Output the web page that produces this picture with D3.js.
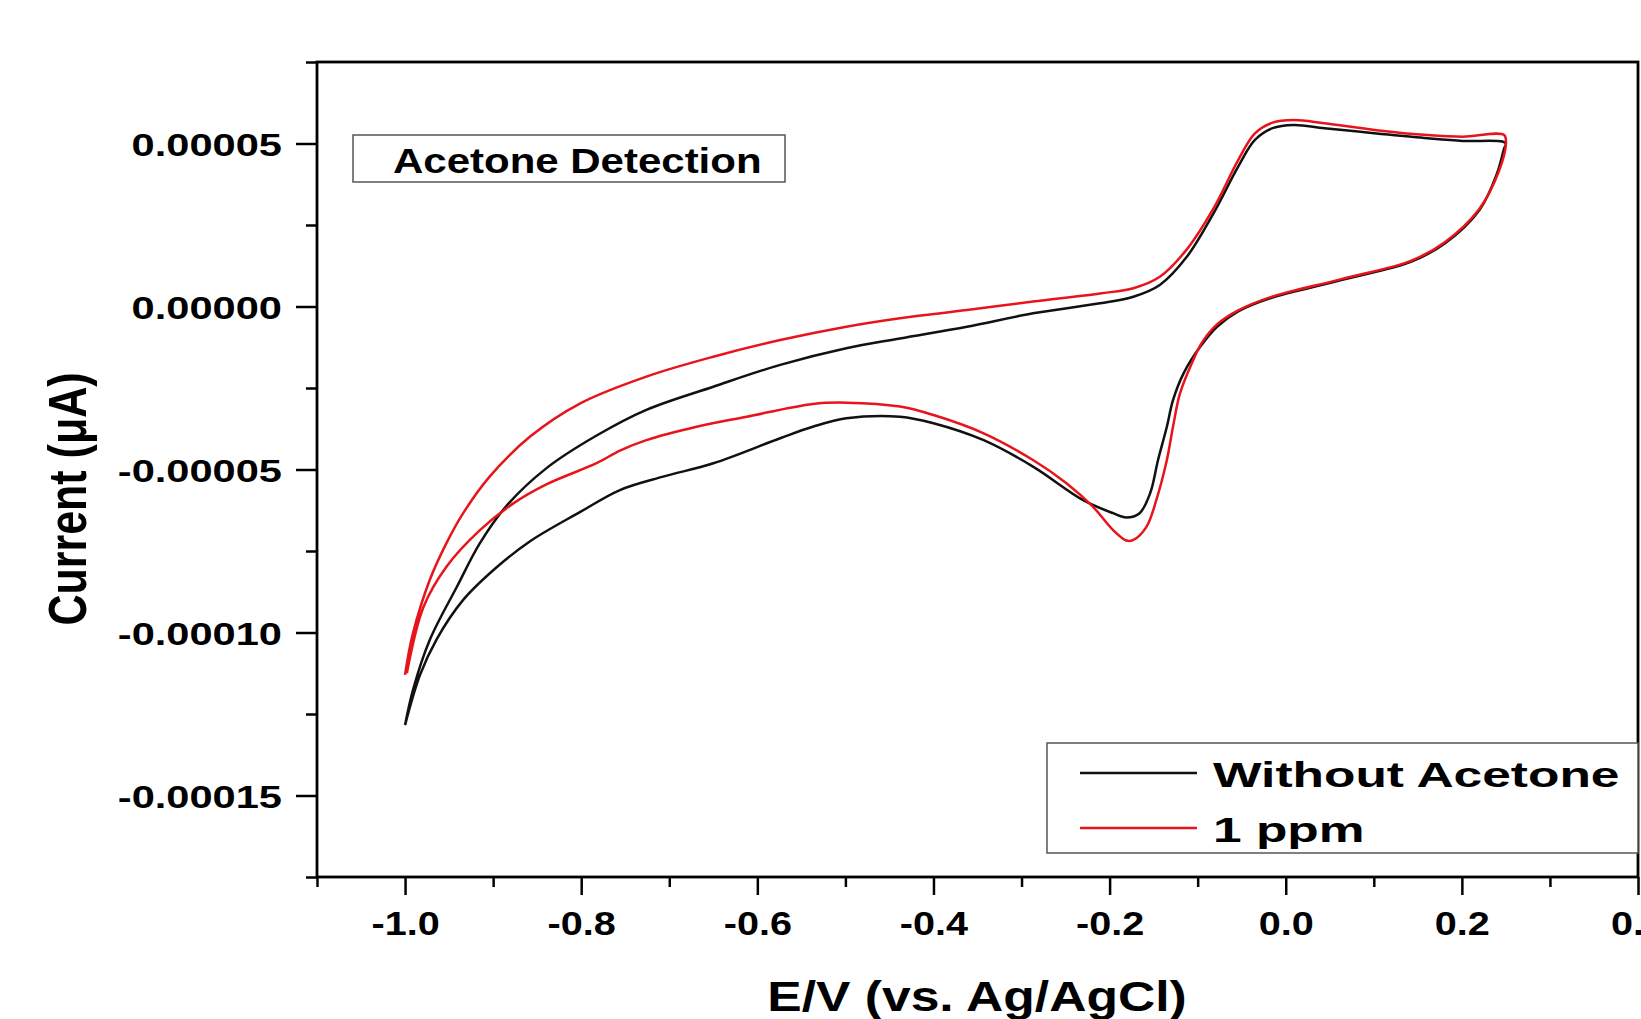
<!DOCTYPE html>
<html>
<head>
<meta charset="utf-8">
<script src="https://cdn.jsdelivr.net/npm/d3@7"></script>
<style>
  body { margin: 0; background: #fff; }
  svg text { font-family: "Liberation Sans", Arial, sans-serif; font-weight: bold; fill: #000; }
</style>
</head>
<body>
<div id="chart"></div>
<script>
// series: potential (V) and current (A), one loop per scan
var seriesNames = ["Without Acetone", "1 ppm"];

var potentialBlank = [-1.000, -0.991, -0.972, -0.941, -0.915, -0.885, -0.839, -0.782, -0.726, -0.650,
  -0.574, -0.499, -0.438, -0.362, -0.287, -0.211, -0.173, -0.143, -0.113, -0.082, -0.054, -0.035,
  -0.015, 0.009, 0.044, 0.103, 0.161, 0.201, 0.246, 0.250,
  0.248, 0.240, 0.220, 0.181, 0.142, 0.063, -0.018, -0.054, -0.078, -0.097, -0.116, -0.128, -0.135,
  -0.145, -0.154, -0.166, -0.181, -0.196, -0.230, -0.287, -0.343, -0.400, -0.438, -0.499, -0.537,
  -0.574, -0.650, -0.707, -0.756, -0.801, -0.858, -0.896, -0.934, -0.964, -0.983, -1.000];
var currentBlank = [-12.84e-5, -11.76e-5, -10.23e-5, -8.59e-5, -7.26e-5, -6.12e-5, -4.95e-5, -3.95e-5, -3.17e-5, -2.46e-5,
  -1.79e-5, -1.28e-5, -0.98e-5, -0.62e-5, -0.21e-5, 0.10e-5, 0.30e-5, 0.66e-5, 1.50e-5, 2.86e-5, 4.29e-5, 5.11e-5,
  5.47e-5, 5.57e-5, 5.47e-5, 5.31e-5, 5.16e-5, 5.08e-5, 5.06e-5, 5.00e-5,
  4.85e-5, 4.09e-5, 2.96e-5, 1.94e-5, 1.37e-5, 0.81e-5, 0.25e-5, -0.15e-5, -0.62e-5, -1.23e-5, -2.05e-5, -2.87e-5, -3.69e-5,
  -4.71e-5, -5.73e-5, -6.34e-5, -6.47e-5, -6.34e-5, -5.94e-5, -4.91e-5, -4.10e-5, -3.58e-5, -3.38e-5, -3.43e-5, -3.69e-5,
  -4.04e-5, -4.81e-5, -5.22e-5, -5.63e-5, -6.30e-5, -7.20e-5, -8.00e-5, -9.00e-5, -10.20e-5, -11.30e-5, -12.84e-5];

var potentialAcetone = [-1.000, -0.998, -0.991, -0.972, -0.953, -0.934, -0.904, -0.858, -0.801, -0.726,
  -0.650, -0.574, -0.499, -0.438, -0.362, -0.287, -0.211, -0.173, -0.143, -0.113, -0.082, -0.054,
  -0.035, -0.015, 0.009, 0.044, 0.103, 0.161, 0.201, 0.248,
  0.250, 0.242, 0.220, 0.181, 0.142, 0.063, -0.018, -0.054, -0.078, -0.095, -0.105, -0.120, -0.128,
  -0.135, -0.147, -0.158, -0.173, -0.181, -0.196, -0.219, -0.249, -0.287, -0.343, -0.400, -0.438,
  -0.499, -0.537, -0.612, -0.669, -0.726, -0.756, -0.782, -0.839, -0.877, -0.915, -0.953, -0.979, -0.998];
var currentAcetone = [-11.30e-5, -10.95e-5, -10.02e-5, -8.39e-5, -7.26e-5, -6.34e-5, -5.22e-5, -3.99e-5, -2.97e-5, -2.15e-5,
  -1.54e-5, -1.03e-5, -0.62e-5, -0.36e-5, -0.11e-5, 0.15e-5, 0.40e-5, 0.56e-5, 0.91e-5, 1.73e-5, 3.01e-5, 4.49e-5,
  5.31e-5, 5.64e-5, 5.72e-5, 5.62e-5, 5.41e-5, 5.26e-5, 5.21e-5, 5.26e-5,
  5.00e-5, 4.15e-5, 3.00e-5, 1.98e-5, 1.40e-5, 0.84e-5, 0.28e-5, -0.12e-5, -0.55e-5, -1.10e-5, -1.64e-5, -2.66e-5, -3.69e-5,
  -4.71e-5, -5.94e-5, -6.75e-5, -7.16e-5, -7.18e-5, -6.86e-5, -6.14e-5, -5.42e-5, -4.71e-5, -3.89e-5, -3.33e-5, -3.07e-5,
  -2.95e-5, -2.99e-5, -3.38e-5, -3.69e-5, -4.10e-5, -4.42e-5, -4.80e-5, -5.45e-5, -6.04e-5, -6.86e-5, -7.98e-5, -9.21e-5, -11.25e-5];

var xMajorTicks = [-1.0, -0.8, -0.6, -0.4, -0.2, 0.0, 0.2, 0.4];
var xMinorTicks = [-1.1, -0.9, -0.7, -0.5, -0.3, -0.1, 0.1, 0.3];
var yMajorTicks = [-0.00015, -0.0001, -0.00005, 0, 0.00005];
var yMinorTicks = [-0.000175, -0.000125, -0.000075, -0.000025, 0.000025, 0.000075];

var lineColors = ["#111111", "#e8141c"];

cvChart = function(_parentElement){
    this.parentElement = _parentElement;
    this.initVis();
}

cvChart.prototype.initVis = function(){

    var vis = this;

    vis.margin = {top: 62, right: 3, bottom: 142, left: 317},
      vis.width = 1641 - vis.margin.left - vis.margin.right,
      vis.height = 1019 - vis.margin.top - vis.margin.bottom;

    vis.svg = d3.select("#" + vis.parentElement).append("svg")
        .attr("width", 1641)
        .attr("height", 1019)
        .append("g")
        .attr("transform", "translate(" + vis.margin.left + "," + vis.margin.top + ")");

    vis.x = d3.scaleLinear().domain([-1.1, 0.4]).range([0, vis.width]);
    vis.y = d3.scaleLinear().domain([-0.000175, 0.000075]).range([vis.height, 0]);

    // minor ticks first, no labels
    vis.svg.append("g")
        .attr("transform", "translate(0," + vis.height + ")")
        .call(d3.axisBottom(vis.x).tickValues(xMinorTicks).tickSize(10).tickFormat(""))
        .call(function(g){ g.select(".domain").remove(); });
    vis.svg.append("g")
        .call(d3.axisLeft(vis.y).tickValues(yMinorTicks).tickSize(11).tickFormat(""))
        .call(function(g){ g.select(".domain").remove(); });

    var xAxis = vis.svg.append("g")
        .attr("transform", "translate(0," + vis.height + ")")
        .call(d3.axisBottom(vis.x).tickValues(xMajorTicks).tickSize(18)
            .tickFormat(function(d){ return d.toFixed(1); }));
    xAxis.select(".domain").remove();
    xAxis.attr("font-size", 33).attr("font-family", null);
    xAxis.selectAll("text")
        .attr("y", 58).attr("dy", 0)
        .attr("transform", "scale(1.2,1)");

    var yAxis = vis.svg.append("g")
        .call(d3.axisLeft(vis.y).tickValues(yMajorTicks).tickSize(21)
            .tickFormat(function(d){ return d.toFixed(5); }));
    yAxis.select(".domain").remove();
    yAxis.attr("font-size", 32).attr("font-family", null);
    yAxis.selectAll("text")
        .attr("x", -35 / 1.3).attr("dy", "0.36em")
        .attr("transform", "scale(1.3,1)");

    vis.svg.selectAll(".tick line").attr("stroke", "#000").attr("stroke-width", 2.5);

    // frame
    vis.svg.append("rect")
        .attr("width", vis.width)
        .attr("height", vis.height)
        .attr("fill", "none")
        .attr("stroke", "#000")
        .attr("stroke-width", 2.8);

    var line = d3.line()
        .x(function(d){ return vis.x(d[0]); })
        .y(function(d){ return vis.y(d[1]); })
        .curve(d3.curveCatmullRom.alpha(0.5));

    var series = [d3.zip(potentialBlank, currentBlank), d3.zip(potentialAcetone, currentAcetone)];

    vis.svg.selectAll(".cv")
        .data(series)
        .enter()
        .append("path")
            .attr("class", "cv")
            .attr("d", line)
            .attr("fill", "none")
            .attr("stroke", function(d, i){ return lineColors[i]; })
            .attr("stroke-width", 2.5)
            .attr("stroke-linejoin", "round");

    // annotation box
    vis.svg.append("rect")
        .attr("x", 36).attr("y", 73)
        .attr("width", 432).attr("height", 47)
        .attr("fill", "#fff")
        .attr("stroke", "#555").attr("stroke-width", 1.5);
    vis.svg.append("text")
        .attr("transform", "translate(76,111) scale(1.2,1)")
        .attr("font-size", 35)
        .text("Acetone Detection");

    // legend
    var legend = vis.svg.append("g").attr("transform", "translate(730,681)");
    legend.append("rect")
        .attr("width", vis.width - 730)
        .attr("height", 110)
        .attr("fill", "#fff")
        .attr("stroke", "#555").attr("stroke-width", 1.5);
    var item = legend.selectAll(".item")
        .data(seriesNames)
        .enter()
        .append("g")
        .attr("transform", function(d, i){ return "translate(0," + (30 + i * 55) + ")"; });
    item.append("line")
        .attr("x1", 33).attr("x2", 150)
        .attr("stroke", function(d, i){ return lineColors[i]; })
        .attr("stroke-width", 2.5);
    item.append("text")
        .attr("transform", "translate(166,14) scale(1.43,1)")
        .attr("font-size", 36)
        .text(function(d){ return d; });

    // axis titles
    vis.svg.append("text")
        .attr("transform", "translate(" + (977 - vis.margin.left) + "," + (1011 - vis.margin.top) + ") scale(1.2,1)")
        .attr("text-anchor", "middle")
        .attr("font-size", 43)
        .text("E/V (vs. Ag/AgCl)");
    vis.svg.append("text")
        .attr("transform", "translate(" + (86 - vis.margin.left) + "," + (499 - vis.margin.top) + ") scale(1.25,1) rotate(-90)")
        .attr("text-anchor", "middle")
        .attr("font-size", 43)
        .text("Current (μA)");
}

new cvChart("chart");
</script>
</body>
</html>
